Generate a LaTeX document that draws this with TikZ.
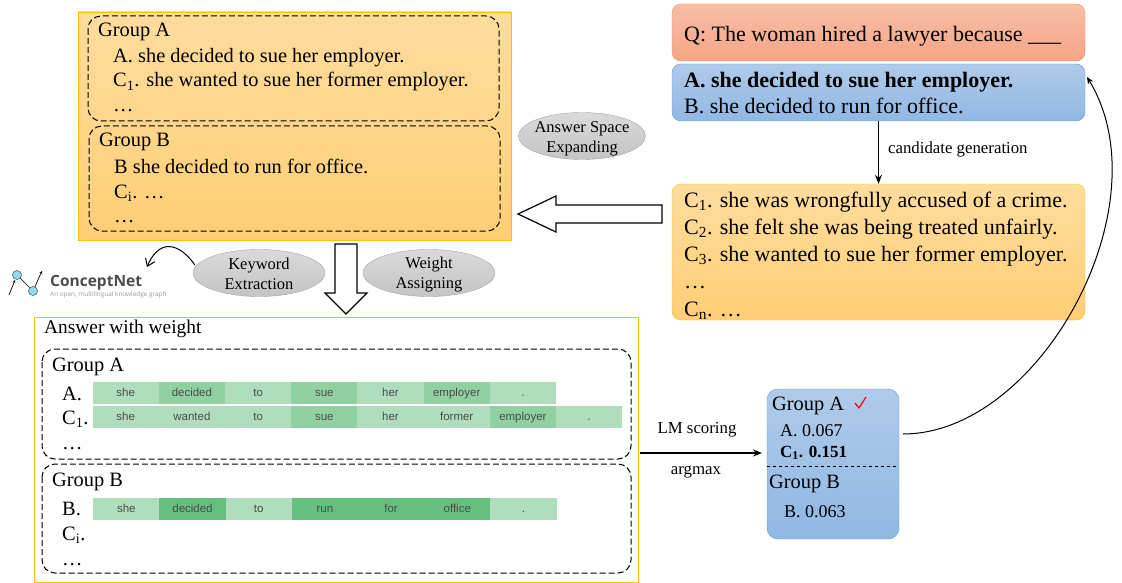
\documentclass[tikz,border=0pt]{standalone}
\usepackage{fontspec}
\setmainfont{Liberation Serif}
\newfontfamily\logofont{Open Sans}
\newfontfamily\barfont{Liberation Sans}
\usetikzlibrary{arrows.meta,shapes.geometric}
\definecolor{orangetop}{HTML}{FFDD9E}
\definecolor{orangebot}{HTML}{FFCE75}
\definecolor{orangeline}{HTML}{FFC000}
\definecolor{bluetop}{HTML}{B0CBE9}
\definecolor{bluebot}{HTML}{91B7E3}
\definecolor{blueline}{HTML}{5B9BD5}
\definecolor{redtop}{HTML}{F7BFA6}
\definecolor{redbot}{HTML}{F5A585}
\definecolor{redline}{HTML}{F4935F}
\definecolor{ovaltop}{HTML}{DADADA}
\definecolor{ovalbot}{HTML}{C4C4C4}
\definecolor{wlow}{HTML}{B0DDBC}
\definecolor{wmid}{HTML}{8FD1A0}
\definecolor{whigh}{HTML}{66BF7E}
\tikzset{
	line/.style={anchor=base west,inner sep=0pt,font=\fontsize{20.4}{24}\selectfont},
	bigline/.style={anchor=base west,inner sep=0pt,font=\fontsize{22}{26}\selectfont},
	smallline/.style={anchor=base west,inner sep=0pt,font=\fontsize{18}{22}\selectfont},
	tag/.style={inner sep=0pt,font=\fontsize{16.8}{20}\selectfont},
	ovaltext/.style={align=center,font=\fontsize{16.5}{20}\selectfont},
	oval/.style={ellipse,draw=gray!70,top color=ovaltop,bottom color=ovalbot,inner sep=0pt,
		minimum width=132pt,minimum height=47pt},
	groupbox/.style={draw,dashed,line width=1pt,rounded corners=13pt,dash pattern=on 6pt off 3pt},
	bigarrow/.style={draw=black,line width=1.2pt,fill=white,line join=miter},
	cell/.style={anchor=north west,inner sep=0pt,minimum width=66.2pt,minimum height=22pt,
		text height=8pt,text depth=2pt,text=black!70,font=\fontsize{11.5}{13}\barfont},
	link/.style={line width=1.3pt,-{Stealth[length=9pt,width=7pt]}}
}
\begin{document}
\begin{tikzpicture}[x=1pt,y=-1pt]
	\useasboundingbox (0,0) rectangle (1122,583);
	% top left panel
	\draw[orangeline,top color=orangetop,bottom color=orangebot] (78,12) rectangle (511,240);
	\draw[groupbox] (88,16) rectangle (499,121);
	\draw[groupbox] (89,126) rectangle (500,231);
	\node[line] (ga) at (98,37) {Group A};
	\node[line] (gaa) at (113,63) {A. she decided to sue her employer.};
	\node[line] (gac) at (113,87) {C\textsubscript{1}. she wanted to sue her former employer.};
	\node[line] (gad) at (113,112) {\ldots};
	\node[line] (gb) at (99,147) {Group B};
	\node[line] (gbb) at (114,173) {B she decided to run for office.};
	\node[line] (gbc) at (114,198) {C\textsubscript{i}. \ldots};
	\node[line] (gbd) at (114,222) {\ldots};
	% question and answers
	\draw[redline,top color=redtop,bottom color=redbot,rounded corners=9pt] (672,4) rectangle (1085,61);
	\node[bigline] (question) at (684,42) {Q: The woman hired a lawyer because \_\_\_};
	\node[draw=blueline,top color=bluetop,bottom color=bluebot,rounded corners=9pt,inner sep=0pt,
		minimum width=413pt,minimum height=57pt] (answers) at (878.5,92.5) {};
	\node[bigline] (answera) at (684,88) {\textbf{A. she decided to sue her employer.}};
	\node[bigline] (answerb) at (684,114) {B. she decided to run for office.};
	% candidates
	\node[draw=orangeline,top color=orangetop,bottom color=orangebot,rounded corners=9pt,inner sep=0pt,
		minimum width=413pt,minimum height=136pt] (cands) at (878.5,252) {};
	\node[bigline] (cand1) at (684,207) {C\textsubscript{1}. she was wrongfully accused of a crime.};
	\node[bigline] (cand2) at (684,234) {C\textsubscript{2}. she felt she was being treated unfairly.};
	\node[bigline] (cand3) at (684,261) {C\textsubscript{3}. she wanted to sue her former employer.};
	\node[bigline] (cand4) at (684,288) {\ldots};
	\node[bigline] (cand5) at (684,316) {C\textsubscript{n}. \ldots};
	\draw[link] (answers) -- node[right=9pt,tag,yshift=3pt] (gen) {candidate generation} (cands);
	% hollow arrows
	\draw[bigarrow] (662,205) -- (556,205) -- (556,196) -- (518,214) -- (556,232) -- (556,223) -- (662,223) -- cycle;
	\draw[bigarrow] (335,244) -- (357,244) -- (357,293) -- (367,293) -- (346,314) -- (325,293) -- (335,293) -- cycle;
	% ovals
	\node[oval,minimum width=127pt] (expand) at (582,136) {};
	\node[ovaltext] (expandtext) at (582,139) {Answer Space\\Expanding};
	\node[oval] (keyword) at (259,273) {};
	\node[ovaltext] (keywordtext) at (259,274) {Keyword\\Extraction};
	\node[oval] (weight) at (429,273) {};
	\node[ovaltext] (weighttext) at (429,275) {Weight\\Assigning};
	% logo
	\coordinate (logoa) at (17,275);
	\coordinate (logob) at (33,291);
	\draw[line width=.7pt,-{Stealth[length=3pt,width=3pt]}] (9,295) -- (15,280);
	\draw[line width=.7pt,-{Stealth[length=3pt,width=3pt]}] (logoa) -- (logob);
	\draw[line width=.7pt,-{Stealth[length=3pt,width=3pt]}] (logob) -- (42,271);
	\fill[cyan!45!white,draw=black!70,line width=.5pt] (logoa) circle (4.5pt) (logob) circle (4.5pt);
	\node[anchor=base west,inner sep=0pt,text=black!70,font=\fontsize{15.5}{18}\logofont\bfseries] (cnet) at (50,286) {ConceptNet};
	\node[anchor=base west,inner sep=0pt,text=black!40,font=\fontsize{6.4}{8}\logofont] (cnetsub) at (50,296) {An open, multilingual knowledge graph};
	\coordinate (cnetin) at (147,267);
	\draw[line width=1pt,-{Straight Barb[length=7pt,width=10pt]}] (keyword.west) ++(2,-8) .. controls (185,250) and (162,232) .. (cnetin);
	% weighted answers
	\draw[orangeline] (34,317) rectangle (638,582);
	\node[line,font=\fontsize{19.4}{23}\selectfont] (awtitle) at (44,333) {Answer with weight};
	\draw[groupbox] (42,349) rectangle (631,459);
	\draw[groupbox] (42,464) rectangle (631,573);
	\node[line] (wga) at (52,371) {Group A};
	\node[line] (wgaa) at (62,400) {A.};
	\node[line] (wgac) at (62,424) {C\textsubscript{1}.};
	\node[line] (wgad) at (62,449) {\ldots};
	\node[line] (wgb) at (52,486) {Group B};
	\node[line] (wgbb) at (62,515) {B.};
	\node[line] (wgbc) at (62,540) {C\textsubscript{i}.};
	\node[line] (wgbd) at (62,565) {\ldots};
	\foreach \word/\shade [count=\i] in {she/wlow,decided/wmid,to/wlow,sue/wmid,her/wlow,employer/wmid,./wlow}
		\node[cell,fill=\shade] (rowa\i) at (92.4+66.2*\i-66.2,382) {\word};
	\foreach \word/\shade [count=\i] in {she/wlow,wanted/wlow,to/wlow,sue/wmid,her/wlow,former/wlow,employer/wmid,./wlow}
		\node[cell,fill=\shade] (rowc\i) at (92.4+66.2*\i-66.2,406) {\word};
	\foreach \word/\shade [count=\i] in {she/wlow,decided/whigh,to/wlow,run/whigh,for/whigh,office/whigh,./wlow}
		\node[cell,fill=\shade] (rowb\i) at (93+66.2*\i-66.2,498) {\word};
	% scores
	\node[draw=blueline,top color=bluetop,bottom color=bluebot,rounded corners=11pt,inner sep=0pt,
		minimum width=132pt,minimum height=150pt] (scores) at (833,464) {};
	\node[line] (sga) at (772,410) {Group A};
	\draw[red,line width=1.2pt] (855,403) -- (859,408) -- (866,397);
	\node[smallline] (sa) at (780,436) {A. 0.067};
	\node[smallline,font=\fontsize{17}{21}\selectfont] (sc) at (780,457) {\textbf{C\textsubscript{1}. 0.151}};
	\draw[dashed,line width=.8pt] (scores.west) ++(0,2) -- ++(132,0);
	\node[line] (sgb) at (769,488) {Group B};
	\node[smallline] (sb) at (784,517) {B. 0.063};
	\coordinate (lmfrom) at (640,453);
	\coordinate (lmto) at (762,453);
	\draw[link] (lmfrom) -- (lmto);
	\node[tag] (lm) at (697,430) {LM scoring};
	\node[tag] (argmax) at (696,472) {argmax};
	\coordinate (scoreout) at (903,434);
	\coordinate (answerin) at (1087,77);
	\draw[line width=1pt,-{Stealth[length=7pt,width=6pt]}] (scoreout) .. controls (1040,434) and (1165,205) .. (answerin);
\end{tikzpicture}
\end{document}
